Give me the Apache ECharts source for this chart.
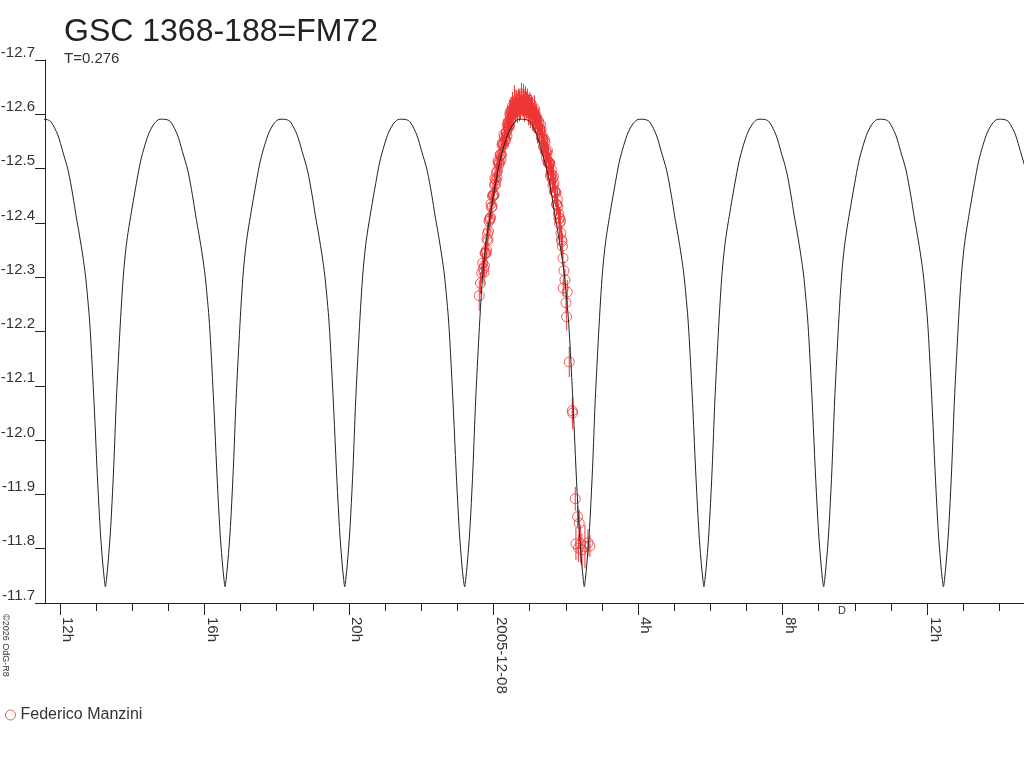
<!DOCTYPE html>
<html>
<head>
<meta charset="utf-8">
<script src="https://cdn.jsdelivr.net/npm/echarts@6/dist/echarts.min.js"></script>
<style>
html,body{margin:0;padding:0;background:#fff;}
#chart{width:1024px;height:768px;}
</style>
</head>
<body>
<div id="chart"></div>
<script>
// ---- Data ----
// times in hours relative to 2005-12-08 00:00 UT, magnitudes
const minimaTimes = [-14.050, -10.739, -7.427, -4.116, -0.797, 2.512, 5.823, 9.137, 12.451, 15.762];
// one cycle of the model curve, offset (h) from a minimum
const cycleOffset = [0, 0.033, 0.069, 0.124, 0.166, 0.230, 0.304, 0.396, 0.451, 0.506, 0.567, 0.622, 0.680, 0.763, 0.858, 0.968, 1.093, 1.217, 1.342, 1.466, 1.577,
  1.707, 1.809, 1.994, 2.133, 2.279, 2.409, 2.500, 2.592, 2.686, 2.758, 2.813, 2.868, 2.915, 3.007, 3.081, 3.145, 3.187, 3.242, 3.278];
const cycleMag = [-11.730, -11.746, -11.770, -11.816, -11.862, -11.950, -12.074, -12.194, -12.258, -12.311, -12.352, -12.380, -12.404, -12.437, -12.473, -12.512, -12.543, -12.567, -12.582, -12.590, -12.591,
  -12.590, -12.586, -12.562, -12.531, -12.497, -12.451, -12.413, -12.378, -12.339, -12.304, -12.267, -12.225, -12.175, -12.055, -11.945, -11.862, -11.816, -11.770, -11.746];

// sparse observations (ends of the run)
const obsSparseTime = [-0.393, -0.360, -0.326, -0.299, 1.950, 1.978, 1.931, 2.042, 2.006, 2.025, 2.097, 2.180, 2.191, 2.263, 2.329, 2.373, 2.282, 2.351, 2.412, 2.448, 2.531, 2.614, 2.669];
const obsSparseMag = [-12.266, -12.289, -12.308, -12.326, -12.312, -12.295, -12.280, -12.273, -12.253, -12.227, -12.144, -12.054, -12.050, -11.892, -11.859, -11.847, -11.809, -11.801, -11.809, -11.798, -11.804, -11.811, -11.805];
const obsSparseErr = [0.028, 0.020, 0.018, 0.018, 0.018, 0.020, 0.016, 0.022, 0.020, 0.025, 0.028, 0.022, 0.030, 0.022, 0.020, 0.025, 0.030, 0.025, 0.035, 0.030, 0.040, 0.025, 0.020];

// dense observations, first pass
const obsATime = [
 -0.276, -0.248, -0.220, -0.193, -0.165, -0.137, -0.110, -0.082, -0.054, -0.027,
 0.001, 0.029, 0.056, 0.084, 0.111, 0.139, 0.167, 0.194, 0.222, 0.250,
 0.277, 0.305, 0.333, 0.360, 0.388, 0.406, 0.423, 0.441, 0.459, 0.476,
 0.484, 0.512, 0.539, 0.567, 0.595, 0.622, 0.650, 0.678, 0.705, 0.733,
 0.761, 0.788, 0.816, 0.844, 0.871, 0.899, 0.927, 0.954, 0.982, 1.010,
 1.037, 1.065, 1.093, 1.120, 1.148, 1.176, 1.203, 1.231, 1.259, 1.286,
 1.314, 1.342, 1.369, 1.397, 1.425, 1.452, 1.480, 1.508, 1.535, 1.563,
 1.591, 1.618, 1.646, 1.674, 1.701, 1.729, 1.757, 1.784, 1.812, 1.840,
 1.867, 1.895, 1.923
];
const obsAMag = [
 -12.316, -12.321, -12.343, -12.350, -12.380, -12.385, -12.406, -12.410, -12.429, -12.449,
 -12.451, -12.470, -12.471, -12.493, -12.496, -12.513, -12.511, -12.526, -12.525, -12.548,
 -12.545, -12.558, -12.554, -12.567, -12.580, -12.575, -12.587, -12.581, -12.598, -12.596,
 -12.607, -12.600, -12.610, -12.604, -12.621, -12.613, -12.621, -12.612, -12.619, -12.627,
 -12.617, -12.624, -12.613, -12.625, -12.618, -12.624, -12.612, -12.617, -12.606, -12.620,
 -12.608, -12.611, -12.598, -12.601, -12.604, -12.589, -12.591, -12.575, -12.582, -12.571,
 -12.572, -12.555, -12.555, -12.540, -12.548, -12.531, -12.529, -12.512, -12.510, -12.509,
 -12.490, -12.489, -12.469, -12.473, -12.458, -12.455, -12.434, -12.430, -12.409, -12.408,
 -12.381, -12.366, -12.335
];
const obsAErr = [
 0.016, 0.020, 0.014, 0.018, 0.022, 0.015, 0.019, 0.013, 0.021, 0.017,
 0.016, 0.020, 0.014, 0.018, 0.022, 0.015, 0.019, 0.013, 0.021, 0.017,
 0.016, 0.020, 0.014, 0.018, 0.022, 0.015, 0.019, 0.013, 0.021, 0.017,
 0.020, 0.024, 0.018, 0.022, 0.026, 0.019, 0.023, 0.017, 0.025, 0.021,
 0.020, 0.024, 0.018, 0.022, 0.026, 0.019, 0.023, 0.017, 0.025, 0.021,
 0.016, 0.020, 0.014, 0.018, 0.022, 0.015, 0.019, 0.013, 0.021, 0.017,
 0.016, 0.020, 0.014, 0.018, 0.022, 0.015, 0.019, 0.013, 0.021, 0.017,
 0.016, 0.020, 0.014, 0.018, 0.022, 0.015, 0.019, 0.013, 0.021, 0.017,
 0.016, 0.020, 0.014
];

// dense observations, second pass
const obsBTime = [
 -0.262, -0.234, -0.207, -0.179, -0.151, -0.124, -0.096, -0.068, -0.041, -0.013,
 0.015, 0.042, 0.070, 0.098, 0.125, 0.153, 0.181, 0.208, 0.236, 0.264,
 0.291, 0.319, 0.347, 0.374, 0.402, 0.420, 0.437, 0.455, 0.473, 0.490,
 0.498, 0.526, 0.553, 0.581, 0.609, 0.636, 0.664, 0.692, 0.719, 0.747,
 0.775, 0.802, 0.830, 0.857, 0.885, 0.913, 0.940, 0.968, 0.996, 1.023,
 1.051, 1.079, 1.106, 1.134, 1.162, 1.189, 1.217, 1.245, 1.272, 1.300,
 1.328, 1.355, 1.383, 1.411, 1.438, 1.466, 1.494, 1.521, 1.549, 1.577,
 1.604, 1.632, 1.660, 1.687, 1.715, 1.743, 1.770, 1.798, 1.826, 1.853,
 1.881, 1.909
];
const obsBMag = [
 -12.309, -12.345, -12.345, -12.370, -12.368, -12.403, -12.408, -12.435, -12.430, -12.452,
 -12.451, -12.482, -12.479, -12.484, -12.513, -12.508, -12.525, -12.516, -12.544, -12.543,
 -12.563, -12.551, -12.567, -12.560, -12.585, -12.577, -12.578, -12.602, -12.591, -12.604,
 -12.591, -12.615, -12.609, -12.624, -12.608, -12.619, -12.608, -12.628, -12.615, -12.612,
 -12.632, -12.617, -12.626, -12.608, -12.627, -12.617, -12.628, -12.608, -12.616, -12.601,
 -12.618, -12.601, -12.594, -12.610, -12.591, -12.596, -12.574, -12.588, -12.574, -12.581,
 -12.557, -12.560, -12.540, -12.553, -12.532, -12.520, -12.533, -12.510, -12.511, -12.486,
 -12.498, -12.481, -12.485, -12.458, -12.457, -12.434, -12.443, -12.417, -12.399, -12.403,
 -12.369, -12.357
];
const obsBErr = [
 0.024, 0.019, 0.028, 0.021, 0.026, 0.018, 0.030, 0.022, 0.025,
 0.024, 0.019, 0.028, 0.021, 0.026, 0.018, 0.030, 0.022, 0.025,
 0.024, 0.019, 0.028, 0.021, 0.026, 0.018, 0.030, 0.022, 0.025,
 0.024, 0.019, 0.028, 0.021, 0.026, 0.018, 0.030, 0.022, 0.025,
 0.024, 0.019, 0.028, 0.021, 0.026, 0.018, 0.030, 0.022, 0.025,
 0.024, 0.019, 0.028, 0.021, 0.026, 0.018, 0.030, 0.022, 0.025,
 0.024, 0.019, 0.028, 0.021, 0.026, 0.018, 0.030, 0.022, 0.025,
 0.024, 0.019, 0.028, 0.021, 0.026, 0.018, 0.030, 0.022, 0.025,
 0.024, 0.019, 0.028, 0.021, 0.026, 0.018, 0.030, 0.022, 0.025,
 0.024
];

const xMinHour = -12.41, xMaxHour = 14.68;
const xTickHours = [-12, -8, -4, 0, 4, 8, 12];
const xTickLabels = ['12h', '16h', '20h', '2005-12-08', '4h', '8h', '12h'];
const xMinorHours = [-12,-11,-10,-9,-8,-7,-6,-5,-4,-3,-2,-1,0,1,2,3,4,5,6,7,8,9,10,11,12,13,14];
const markerD = { time: 9.64, text: 'D' };
const seriesName = 'Federico Manzini';

// ---- build model curve from the cycle ----
const curve = [];
minimaTimes.forEach(tm => {
  for (let i = 0; i < cycleOffset.length; i++) curve.push([tm + cycleOffset[i], cycleMag[i]]);
});
function zip(ts, ms, es) {
  const n = Math.min(ts.length, ms.length, es.length);
  const out = [];
  for (let i = 0; i < n; i++) out.push([ts[i], ms[i], es[i]]);
  return out;
}
const obs = [].concat(
  zip(obsSparseTime, obsSparseMag, obsSparseErr),
  zip(obsATime, obsAMag, obsAErr),
  zip(obsBTime, obsBMag, obsBErr)
);

const RED = '#ef3535';
const INK = '#222';
const FONT = '"Liberation Sans", Arial, sans-serif';

const chart = echarts.init(document.getElementById('chart'));
chart.setOption({
  animation: false,
  backgroundColor: '#fff',
  textStyle: { fontFamily: FONT },
  title: [
    { text: 'GSC 1368-188=FM72', left: 64, top: 16, padding: 0,
      textStyle: { fontSize: 32, fontWeight: 'normal', color: INK, fontFamily: FONT } },
    { text: 'T=0.276', left: 64, top: 51, padding: 0,
      textStyle: { fontSize: 15, fontWeight: 'normal', color: '#333', fontFamily: FONT } }
  ],
  legend: {
    left: 5, top: 707, padding: 0, icon: 'circle', itemWidth: 10, itemHeight: 10,
    textStyle: { fontSize: 16, color: '#333', fontFamily: FONT },
    data: [{ name: seriesName, itemStyle: { color: 'transparent', borderColor: RED, borderWidth: 1 } }]
  },
  grid: { left: 45, right: 0, top: 60, bottom: 165, containLabel: false, outerBoundsMode: 'none' },
  xAxis: [
    { type: 'value', min: xMinHour, max: xMaxHour, position: 'bottom',
      axisLine: { show: true, onZero: false, lineStyle: { color: INK, width: 1 } },
      axisTick: { show: true, length: 12, customValues: xTickHours, lineStyle: { color: INK } },
      axisLabel: { show: true, customValues: xTickHours, rotate: -90, margin: 14,
        verticalAlign: 'bottom', fontSize: 15, color: '#333', fontFamily: FONT,
        formatter: v => { const i = xTickHours.indexOf(Math.round(v)); return i >= 0 ? xTickLabels[i] : ''; } },
      splitLine: { show: false } },
    { type: 'value', min: xMinHour, max: xMaxHour, position: 'bottom',
      axisLine: { show: false, onZero: false },
      axisTick: { show: true, length: 8, customValues: xMinorHours, lineStyle: { color: INK } },
      axisLabel: { show: false }, splitLine: { show: false } }
  ],
  yAxis: {
    type: 'value', min: -12.7, max: -11.7, interval: 0.1, inverse: true,
    axisLine: { show: true, onZero: false, lineStyle: { color: INK, width: 1 } },
    axisTick: { show: true, length: 10, lineStyle: { color: INK } },
    axisLabel: { margin: 10, fontSize: 15, color: '#333', fontFamily: FONT, verticalAlign: 'bottom',
      formatter: v => v.toFixed(1) },
    splitLine: { show: false }
  },
  graphic: [
    { type: 'text', x: 1, y: 614, rotation: -Math.PI / 2,
      style: { text: '\u00a92026 OdG-R8', fontSize: 9, fill: '#333', fontFamily: FONT,
               textAlign: 'left', textVerticalAlign: 'bottom' } }
  ],
  series: [
    { type: 'custom', name: 'errbars', xAxisIndex: 0, z: 2, silent: true,
      data: obs,
      encode: { x: 0, y: 1 },
      renderItem: (params, api) => {
        const t = api.value(0), m = api.value(1), e = api.value(2);
        const p1 = api.coord([t, m - e]);
        const p2 = api.coord([t, m + e]);
        return { type: 'line', shape: { x1: p1[0], y1: p1[1], x2: p2[0], y2: p2[1] },
                 style: { stroke: RED, lineWidth: 1 } };
      } },
    { type: 'scatter', name: seriesName, xAxisIndex: 0, z: 3, silent: true,
      data: obs.map(d => [d[0], d[1]]),
      symbol: 'circle', symbolSize: 10,
      itemStyle: { color: 'transparent', borderColor: RED, borderWidth: 1 } },
    { type: 'line', name: 'model', xAxisIndex: 0, z: 4, silent: true,
      data: curve, showSymbol: false, symbol: 'none', smooth: 0.3,
      lineStyle: { color: INK, width: 1 },
      markPoint: { symbol: 'circle', symbolSize: 0, silent: true,
        label: { show: true, formatter: markerD.text, offset: [0, 8], fontSize: 11, color: '#333', fontFamily: FONT },
        data: [{ coord: [markerD.time, -11.7] }] } }
  ]
});
</script>
</body>
</html>
